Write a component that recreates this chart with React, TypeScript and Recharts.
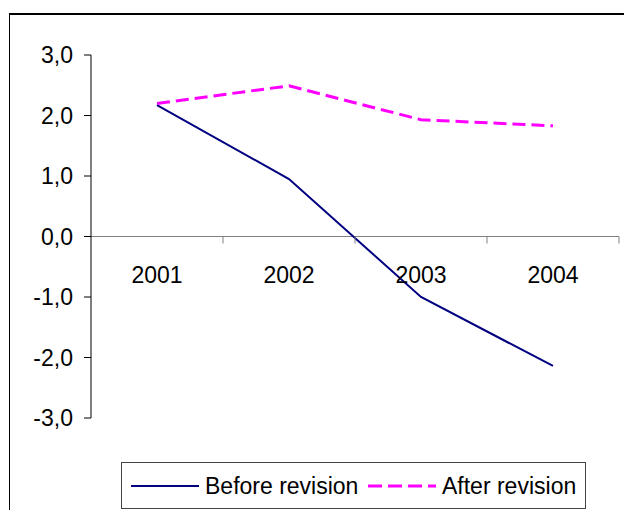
import { LineChart, Line, XAxis, YAxis, ReferenceLine } from "recharts";

const years = ["2001", "2002", "2003", "2004"];
const beforeRevision = [2.17, 0.95, -1.0, -2.14];
const afterRevision = [2.2, 2.49, 1.93, 1.83];
const yTicks = [-3, -2, -1, 0, 1, 2, 3];

const series = [
  { key: "before", name: "Before revision", color: "#000080", width: 2, dash: undefined as string | undefined },
  { key: "after", name: "After revision", color: "#ff00ff", width: 3, dash: "13 6" },
];

const data = years.map((year, i) => ({
  year,
  before: beforeRevision[i],
  after: afterRevision[i],
}));

const W = 624;
const H = 510;
const xAxisHeight = 30;
const margin = { top: 55, right: 5, bottom: 92 - xAxisHeight, left: 0 };
const yAxisWidth = 91;
const yMin = -3;
const yMax = 3;
const plotH = H - margin.top - margin.bottom - xAxisHeight;
const plotW = W - margin.left - margin.right - yAxisWidth;
// the category axis crosses the value axis at zero
const zeroY = margin.top + (plotH * (yMax - 0)) / (yMax - yMin);
const font = "'Liberation Sans', Arial, sans-serif";

const fmt = (v: number) => v.toFixed(1).replace(".", ",");

function CategoryTick(props: any) {
  const { x, payload } = props;
  const half = plotW / years.length / 2;
  return (
    <g>
      <line x1={x + half} x2={x + half} y1={zeroY} y2={zeroY + 7} stroke="#808080" strokeWidth={1} />
      <text x={x} y={zeroY + 46} textAnchor="middle" fontSize={23} fontFamily={font} fill="#000">
        {payload.value}
      </text>
    </g>
  );
}

export default function App() {
  return (
    <div style={{ position: "fixed", left: 0, top: 0, width: W, height: H, overflow: "hidden", background: "#fff" }}>
      <div
        style={{
          position: "absolute",
          left: 9,
          top: 13,
          width: 700,
          height: 600,
          borderTop: "2px solid #000",
          borderLeft: "1px solid #000",
        }}
      />
      <div style={{ position: "absolute", left: 0, top: 0 }}>
        <LineChart width={W} height={H} data={data} margin={margin}>
          <YAxis
            width={yAxisWidth}
            domain={[yMin, yMax]}
            ticks={yTicks}
            interval={0}
            tickFormatter={fmt}
            tickSize={7}
            tickMargin={11}
            axisLine={{ stroke: "#000" }}
            tickLine={{ stroke: "#000" }}
            tick={{ fontSize: 23, fontFamily: font, fill: "#000" }}
          />
          <XAxis
            dataKey="year"
            scale="band"
            height={xAxisHeight}
            interval={0}
            axisLine={false}
            tickLine={false}
            tick={<CategoryTick />}
          />
          <ReferenceLine y={0} stroke="#808080" strokeWidth={1} />
          {series.map((s) => (
            <Line
              key={s.key}
              type="linear"
              dataKey={s.key}
              name={s.name}
              stroke={s.color}
              strokeWidth={s.width}
              strokeDasharray={s.dash}
              dot={false}
              isAnimationActive={false}
            />
          ))}
        </LineChart>
      </div>
      <div
        style={{
          position: "absolute",
          left: 121,
          top: 462,
          width: 465,
          height: 47,
          border: "1px solid #444",
          boxSizing: "border-box",
          fontFamily: font,
          fontSize: 23,
          color: "#000",
        }}
      >
        {series.map((s, i) => (
          <div
            key={s.key}
            style={{ position: "absolute", left: i === 0 ? 9 : 246, top: 9, height: 28, display: "flex", alignItems: "center" }}
          >
            <svg width={68} height={10} style={{ marginRight: 6 }}>
              <line x1={0} x2={68} y1={5} y2={5} stroke={s.color} strokeWidth={s.width} strokeDasharray={s.dash ? "14 6" : undefined} />
            </svg>
            <span>{s.name}</span>
          </div>
        ))}
      </div>
    </div>
  );
}
